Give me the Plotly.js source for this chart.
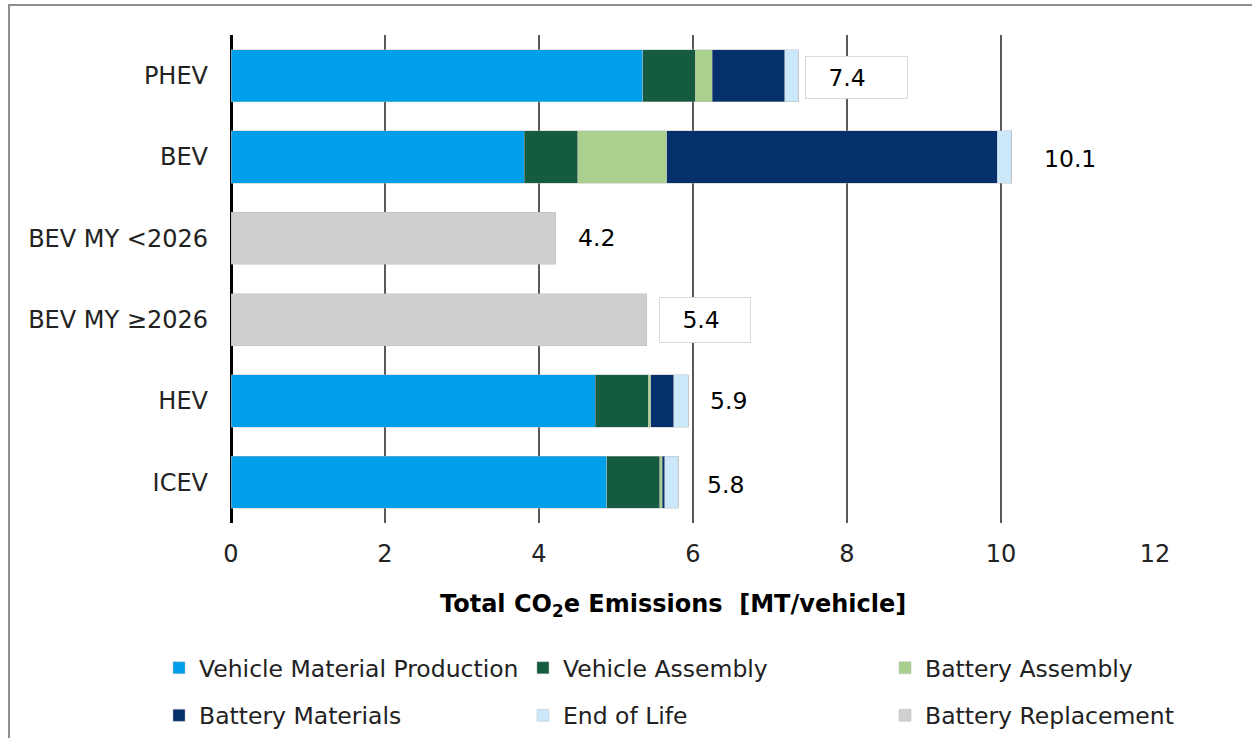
<!DOCTYPE html>
<html>
<head>
<meta charset="utf-8">
<script src="https://cdn.plot.ly/plotly-3.0.1.min.js"></script>
<style>
  html, body { margin: 0; padding: 0; background: #fff; }
  #wrap { position: relative; width: 1252px; height: 738px; overflow: hidden; }
  #chart { width: 1252px; height: 738px; }
  #frame { position: absolute; left: 8px; top: 4px; width: 1300px; height: 800px;
           border-left: 2px solid #8f8f8f; border-top: 2px solid #8f8f8f; pointer-events: none; }
</style>
</head>
<body>
<div id="wrap"><div id="chart"></div><div id="frame"></div></div>
<script>
// ---- data (MT CO2e per vehicle) ----
const categories = ['PHEV', 'BEV', 'BEV MY <2026', 'BEV MY \u22652026', 'HEV', 'ICEV'];
const vehicleMaterialProduction = [5.35, 3.81, 0, 0, 4.73, 4.88];
const vehicleAssembly           = [0.68, 0.69, 0, 0, 0.69, 0.69];
const batteryAssembly           = [0.22, 1.16, 0, 0, 0.03, 0.03];
const batteryMaterials          = [0.94, 4.29, 0, 0, 0.30, 0.03];
const endOfLife                 = [0.18, 0.19, 0, 0, 0.19, 0.18];
const batteryReplacement        = [0, 0, 4.22, 5.40, 0, 0];
const totalLabels = ['7.4', '10.1', '4.2', '5.4', '5.9', '5.8'];

// ---- styling ----
const FONT = 'DejaVu Sans, Verdana, sans-serif';
const series = [
  {name: 'Vehicle Material Production', x: vehicleMaterialProduction, color: '#009fe9', legend: 'legend'},
  {name: 'Vehicle Assembly',            x: vehicleAssembly,           color: '#155b3f', legend: 'legend2'},
  {name: 'Battery Assembly',            x: batteryAssembly,           color: '#a9d08e', legend: 'legend3'},
  {name: 'Battery Materials',           x: batteryMaterials,          color: '#05306b', legend: 'legend'},
  {name: 'End of Life',                 x: endOfLife,                 color: '#cbe8fb', legend: 'legend2'},
  {name: 'Battery Replacement',         x: batteryReplacement,        color: '#d0cfd0', legend: 'legend3'}
];

const traces = series.map((s, i) => ({
  type: 'bar',
  orientation: 'h',
  name: s.name,
  y: categories,
  x: s.x,
  legend: s.legend,
  legendgroup: 'g' + i,
  marker: {color: s.color, line: {color: 'rgba(185,185,185,0.55)', width: 0.8}},
  hoverinfo: 'skip'
}));

// label placement (pixel offsets from bar end) and boxes
const labelXShift = [58, 58, 41, 58, 40, 47];
const labelYShift = [-2, -2, 0, 0, 0, -3];
const labelBox    = [[101, 41], null, null, [90, 44], null, null];

const totals = categories.map((c, i) => series.reduce((a, s) => a + s.x[i], 0));
const NB = '\u00a0\u00a0\u00a0';
const annotations = categories.map((c, i) => {
  const a = {
    x: totals[i], y: c, xref: 'x', yref: 'y',
    text: totalLabels[i], showarrow: false,
    xanchor: 'center', yanchor: 'middle',
    xshift: labelXShift[i], yshift: labelYShift[i],
    font: {family: FONT, size: 23.5, color: '#000'}
  };
  if (labelBox[i]) {
    a.text = NB + totalLabels[i];
    a.width = labelBox[i][0];
    a.height = labelBox[i][1];
    a.align = 'left';
    a.bgcolor = '#ffffff';
    a.bordercolor = '#d9d9d9';
    a.borderwidth = 1;
    a.borderpad = 0;
  }
  return a;
});
annotations.push({
  xref: 'paper', yref: 'paper', x: 0.478, y: 0, yshift: -82,
  xanchor: 'center', yanchor: 'middle', showarrow: false,
  text: 'Total CO<sub>2</sub>e Emissions\u00a0 [MT/vehicle]',
  font: {family: FONT, size: 24, color: '#000', weight: 'bold'}
});

const legendBase = {
  orientation: 'v', xref: 'container', yref: 'container',
  yanchor: 'top', xanchor: 'left', y: 0.1247,
  font: {family: FONT, size: 23.5, color: '#222'},
  tracegroupgap: 14, bgcolor: 'rgba(0,0,0,0)', traceorder: 'grouped'
};

const layout = {
  width: 1252, height: 738,
  margin: {l: 231, r: 97, t: 35, b: 215, autoexpand: false},
  paper_bgcolor: '#ffffff', plot_bgcolor: '#ffffff',
  barmode: 'stack', bargap: 0.36,
  font: {family: FONT, size: 24, color: '#222'},
  xaxis: {
    range: [0, 12], dtick: 2, tick0: 0,
    showgrid: true, gridcolor: '#5a5a5a', gridwidth: 1.5,
    zeroline: true, zerolinecolor: '#000', zerolinewidth: 3,
    showline: false, ticks: '', ticklabelstandoff: 14,
    tickfont: {family: FONT, size: 24, color: '#222'},
    fixedrange: true, automargin: false
  },
  yaxis: {
    type: 'category', categoryorder: 'array', categoryarray: categories,
    autorange: 'reversed', showgrid: false, zeroline: false, showline: false,
    ticks: '', ticklabelstandoff: 22,
    tickfont: {family: FONT, size: 24, color: '#222'},
    fixedrange: true, automargin: false
  },
  showlegend: true,
  legend: Object.assign({}, legendBase, {x: 0.127}),
  legend2: Object.assign({}, legendBase, {x: 0.4177}),
  legend3: Object.assign({}, legendBase, {x: 0.7069}),
  annotations: annotations,
  hovermode: false
};

Plotly.newPlot('chart', traces, layout, {displayModeBar: false, staticPlot: true});
</script>
</body>
</html>
